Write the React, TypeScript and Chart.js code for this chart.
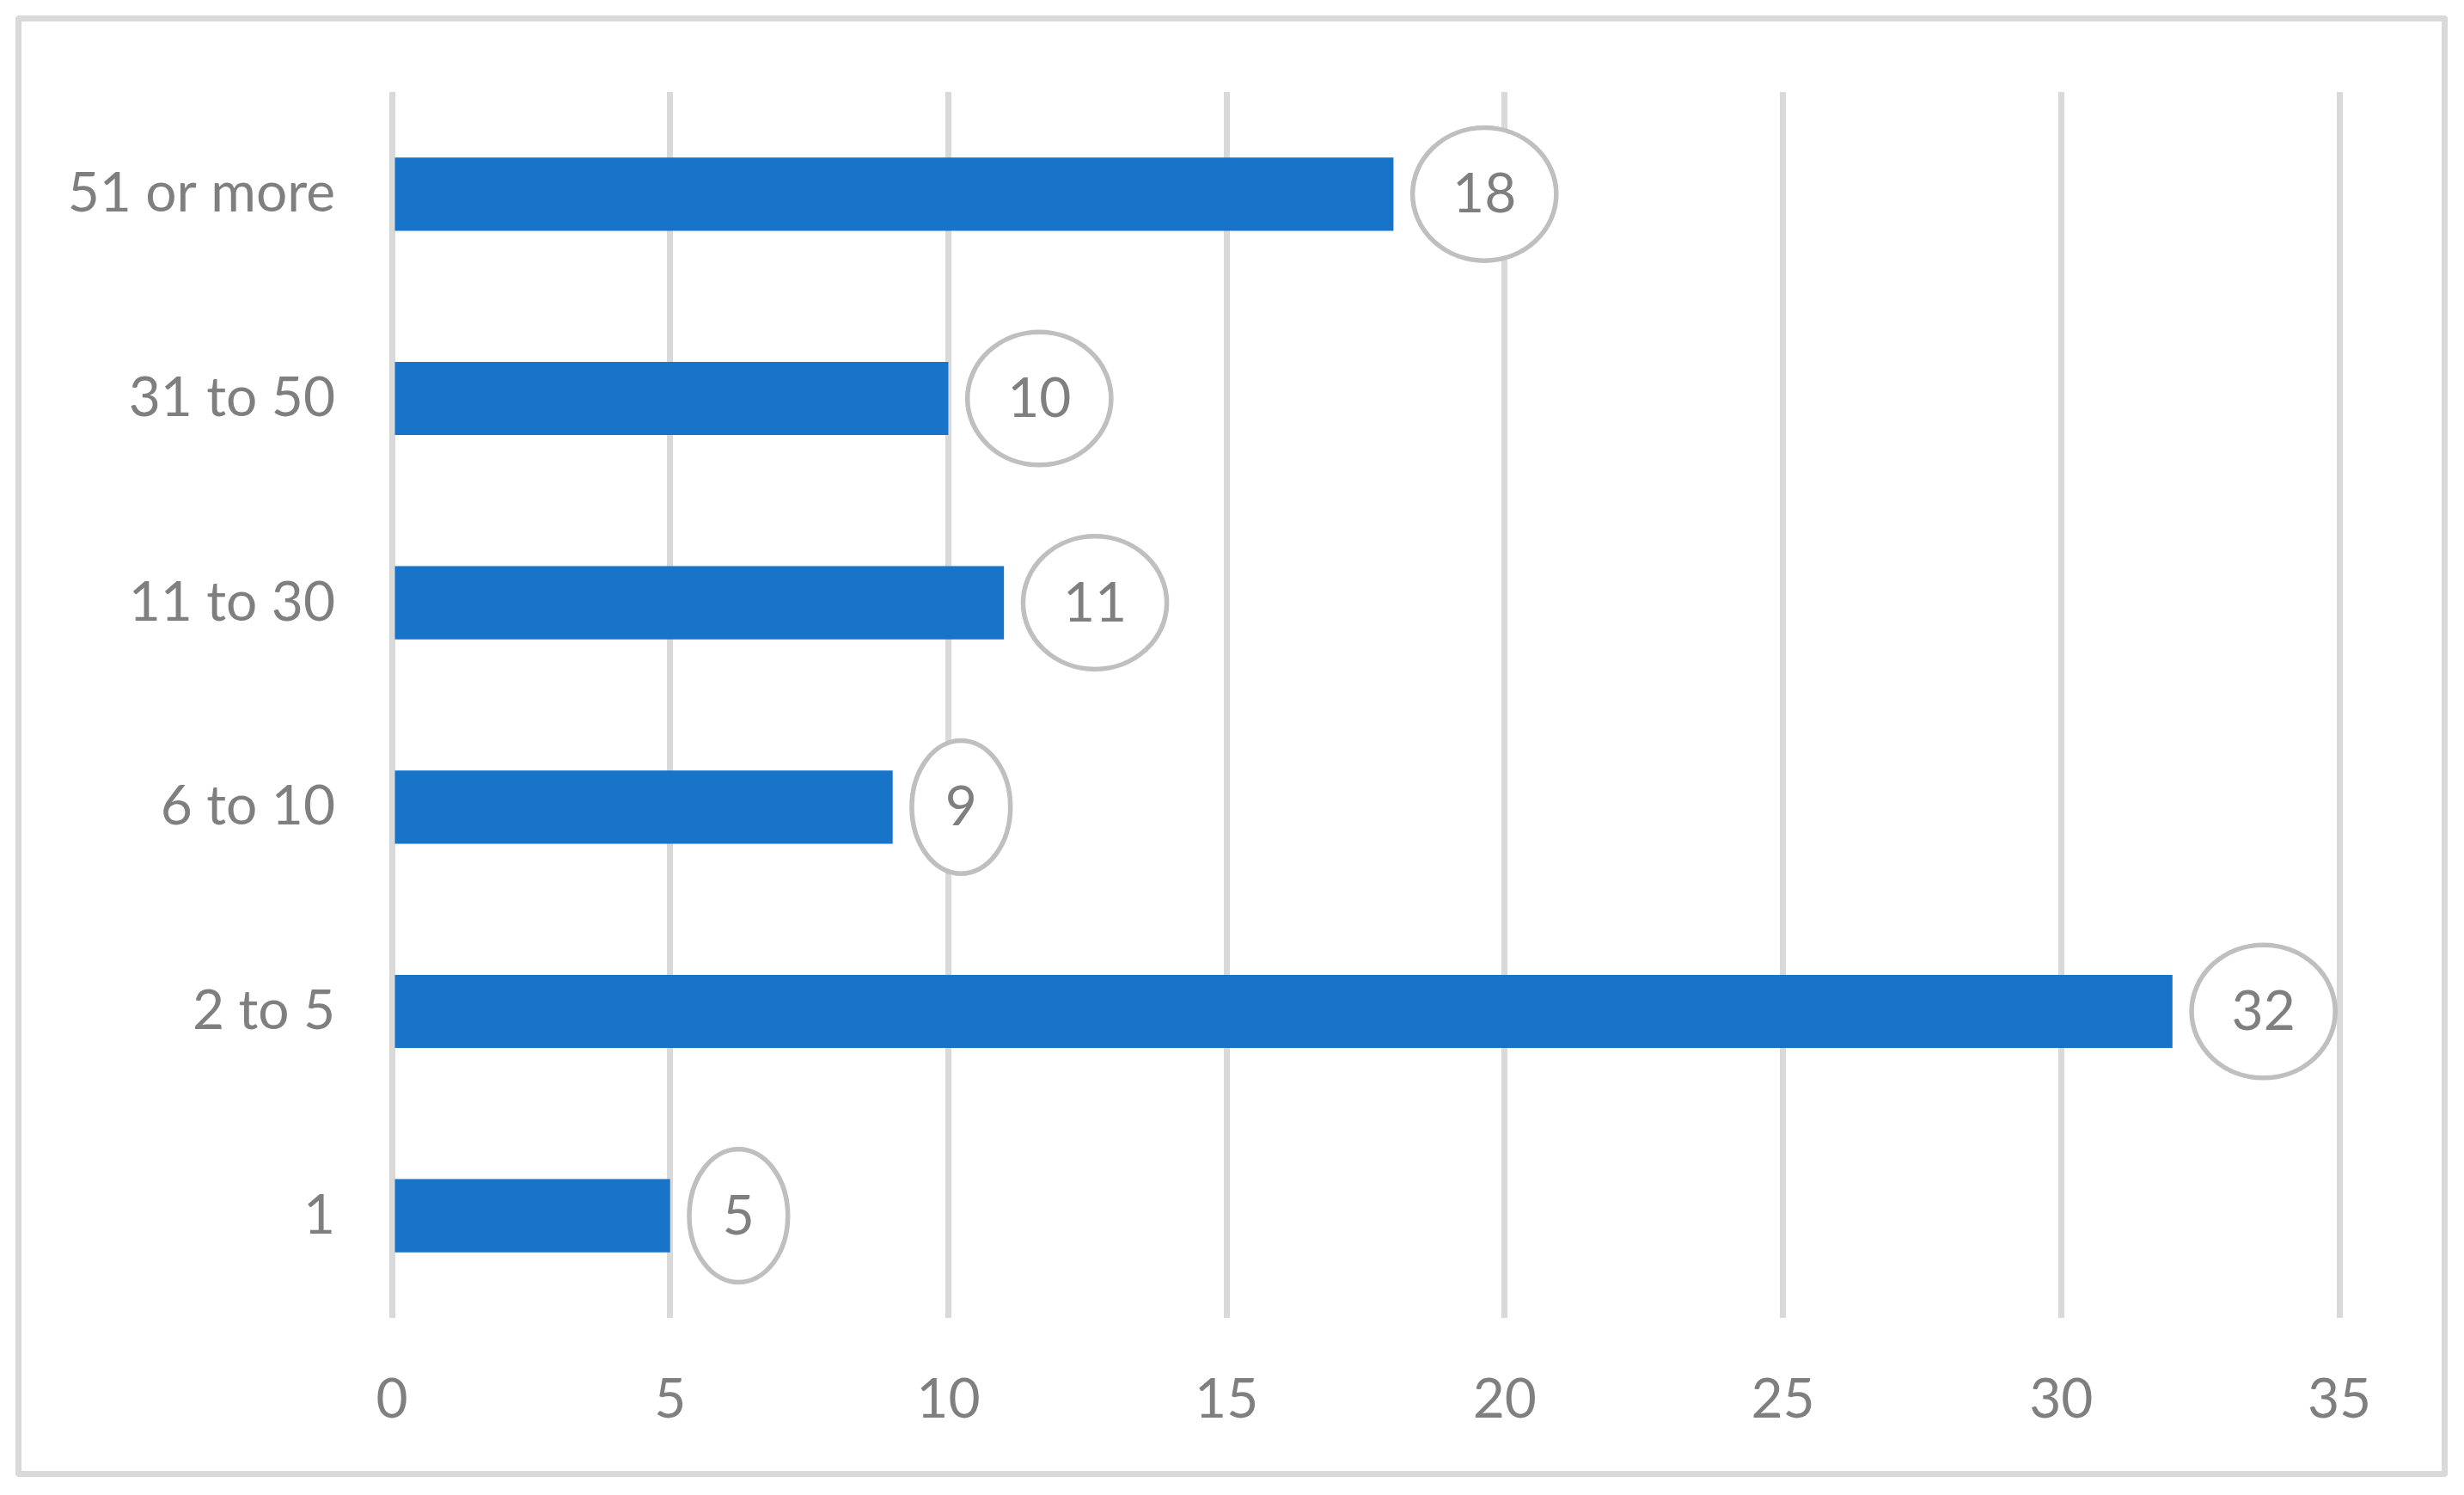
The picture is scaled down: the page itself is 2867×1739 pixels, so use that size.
import React, { useEffect, useRef } from "react";
import { Chart, registerables } from "chart.js";

Chart.register(...registerables);

const categories = ["51 or more", "31 to 50", "11 to 30", "6 to 10", "2 to 5", "1"];
const counts = [18, 10, 11, 9, 32, 5];
const xMin = 0;
const xMax = 35;
const xStep = 5;

const W = 2867;
const H = 1739;
const FONT = "Lato";
const TEXT = "#7F7F7F";
const GRID = "#D9D9D9";
const BAR = "#1874C8";

const ellipseLabels = {
  id: "ellipseLabels",
  afterDatasetsDraw(chart: any) {
    const ctx = chart.ctx;
    const meta = chart.getDatasetMeta(0);
    const data = chart.data.datasets[0].data;
    ctx.save();
    ctx.font = `64px ${FONT}`;
    ctx.textAlign = "center";
    ctx.textBaseline = "middle";
    meta.data.forEach((bar: any, i: number) => {
      const txt = String(data[i]);
      const tw = ctx.measureText(txt).width;
      const rx = (tw + 44) / Math.SQRT2;
      const ry = 77.3;
      const lw = 5.5;
      const cx = bar.x + 19.5 + lw / 2 + rx;
      const cy = bar.y;
      ctx.beginPath();
      ctx.ellipse(cx, cy, rx, ry, 0, 0, Math.PI * 2);
      ctx.fillStyle = "#FFFFFF";
      ctx.fill();
      ctx.lineWidth = lw;
      ctx.strokeStyle = "#BFBFBF";
      ctx.stroke();
      ctx.fillStyle = TEXT;
      ctx.fillText(txt, cx, cy + 1);
    });
    ctx.restore();
  },
};

export default function App() {
  const ref = useRef<HTMLCanvasElement | null>(null);
  useEffect(() => {
    if (!ref.current) return;
    const chart = new Chart(ref.current, {
      type: "bar",
      data: {
        labels: categories,
        datasets: [
          {
            data: counts,
            backgroundColor: BAR,
            borderWidth: 0,
            categoryPercentage: 1,
            barPercentage: 0.358,
          },
        ],
      },
      options: {
        indexAxis: "y",
        animation: false,
        responsive: false,
        devicePixelRatio: 1,
        events: [],
        layout: { padding: { top: 107, right: 145, bottom: 0, left: 0 } },
        plugins: {
          legend: { display: false },
          tooltip: { enabled: false },
          title: { display: false },
        },
        scales: {
          x: {
            type: "linear",
            min: xMin,
            max: xMax,
            ticks: {
              stepSize: xStep,
              color: TEXT,
              font: { family: FONT, size: 64 },
              padding: 57,
              maxRotation: 0,
            },
            grid: { color: GRID, lineWidth: 7, drawTicks: false },
            border: { display: false },
            afterFit: (s: any) => {
              s.height = H - 1533;
            },
          },
          y: {
            ticks: {
              color: TEXT,
              font: { family: FONT, size: 64 },
              padding: 66,
            },
            grid: { display: false, drawTicks: false },
            border: { display: false },
            afterFit: (s: any) => {
              s.width = 456;
            },
          },
        },
      },
      plugins: [ellipseLabels],
    } as any);
    return () => chart.destroy();
  }, []);

  return (
    <div style={{ position: "absolute", left: 0, top: 0, width: W, height: H, background: "#fff", overflow: "hidden" }}>
      <div
        style={{
          position: "absolute",
          left: 18,
          top: 18,
          width: 2830,
          height: 1700,
          boxSizing: "border-box",
          border: `7px solid ${GRID}`,
          borderRadius: 4,
        }}
      />
      <canvas ref={ref} width={W} height={H} style={{ position: "absolute", left: 0, top: 0, width: W, height: H }} />
    </div>
  );
}
